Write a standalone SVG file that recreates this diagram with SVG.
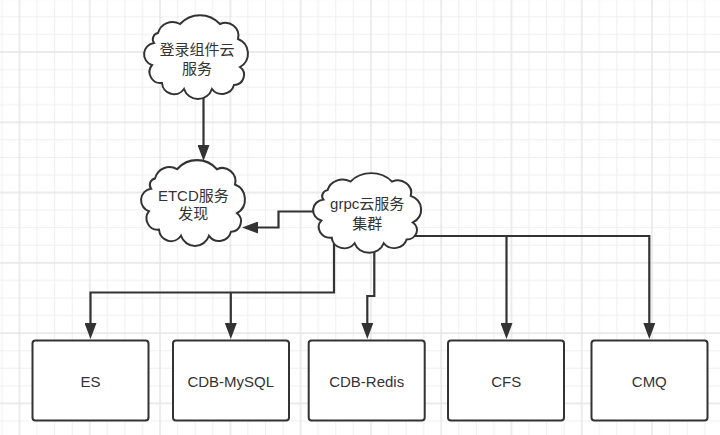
<svg xmlns="http://www.w3.org/2000/svg" xmlns:xlink="http://www.w3.org/1999/xlink" width="720" height="435" viewBox="0 0 720 435">
<style>
.lbl{font-family:"Liberation Sans","Noto Sans CJK SC",sans-serif;font-size:15px;fill:#333;text-anchor:middle}
.box{fill:#fff;stroke:#333;stroke-width:2}
.cloud{fill:#fff;stroke:#333;stroke-width:2;vector-effect:non-scaling-stroke}
.conn{fill:none;stroke:#333;stroke-width:2.2;marker-end:url(#arr)}
.minor{stroke:#efefef;stroke-width:1}
.major{stroke:#e5e5e5;stroke-width:1.4}
</style>
<defs>
<pattern id="grid" patternUnits="userSpaceOnUse" x="18.5" y="51" width="70.28" height="70.28">
<path class="minor" d="M18.57,0V70.28M36.14,0V70.28M53.71,0V70.28M0,18.57H70.28M0,36.14H70.28M0,53.71H70.28"/>
<path class="major" d="M1,0V70.28M0,1H70.28"/>
</pattern>
<marker id="arr" markerUnits="userSpaceOnUse" viewBox="0 0 16 12" markerWidth="16" markerHeight="12" refX="10" refY="6" orient="auto">
<path d="M0,0L16,6L0,12Z" fill="#333"/>
</marker>
<path id="cloudShape" d="M14,18A15,15 0 0 1 36,9A27,27 0 0 1 76,9A13,13 0 0 1 94,24A15.5,15.5 0 0 1 96,52A10,10 0 0 1 90,70A12.5,12.5 0 0 1 68,74A14.8,14.8 0 0 1 40,74A12.1,12.1 0 0 1 18,68A11.1,11.1 0 0 1 8,50A11.3,11.3 0 0 1 10,28A6.4,6.4 0 0 1 14,18Z"/>
</defs>
<rect width="720" height="435" fill="#fff"/>
<rect width="720" height="435" fill="url(#grid)"/>
<g id="connectors">
<path class="conn" d="M203.5,96V155"/>
<path class="conn" d="M318,211.5H278.5V227.5H248"/>
<path class="conn" d="M334,240V292.5H90.5V333"/>
<path class="conn" d="M230.8,292.5V333"/>
<path class="conn" d="M374.3,248V296H367.3V333"/>
<path class="conn" d="M412,236H649.3V333"/>
<path class="conn" d="M506.5,236V333"/>
</g>
<g id="node-login">
<use xlink:href="#cloudShape" class="cloud" transform="translate(144,15)"/>
<text class="lbl" x="197" y="54.8">登录组件云</text>
<text class="lbl" x="197" y="73.8">服务</text>
</g>
<g id="node-etcd">
<use xlink:href="#cloudShape" class="cloud" transform="translate(141,160) scale(1,1.024)"/>
<text class="lbl" x="193.3" y="200.5">ETCD服务</text>
<text class="lbl" x="193.3" y="218.8">发现</text>
</g>
<g id="node-grpc">
<use xlink:href="#cloudShape" class="cloud" transform="translate(313,173) scale(1.04,0.95)"/>
<text class="lbl" x="367.2" y="208.8">grpc云服务</text>
<text class="lbl" x="367.2" y="228.8">集群</text>
</g>
<g id="node-es">
<rect class="box" x="32.5" y="340.5" width="116" height="80" rx="3"/>
<text class="lbl" x="90.5" y="387">ES</text>
</g>
<g id="node-mysql">
<rect class="box" x="173" y="340.5" width="116" height="80" rx="3"/>
<text class="lbl" x="230.8" y="387">CDB-MySQL</text>
</g>
<g id="node-redis">
<rect class="box" x="308.7" y="340.5" width="116" height="80" rx="3"/>
<text class="lbl" x="366.7" y="387">CDB-Redis</text>
</g>
<g id="node-cfs">
<rect class="box" x="448" y="340.5" width="116" height="80" rx="3"/>
<text class="lbl" x="506.2" y="387">CFS</text>
</g>
<g id="node-cmq">
<rect class="box" x="591.5" y="340.5" width="116" height="80" rx="3"/>
<text class="lbl" x="649.3" y="387">CMQ</text>
</g>
</svg>
